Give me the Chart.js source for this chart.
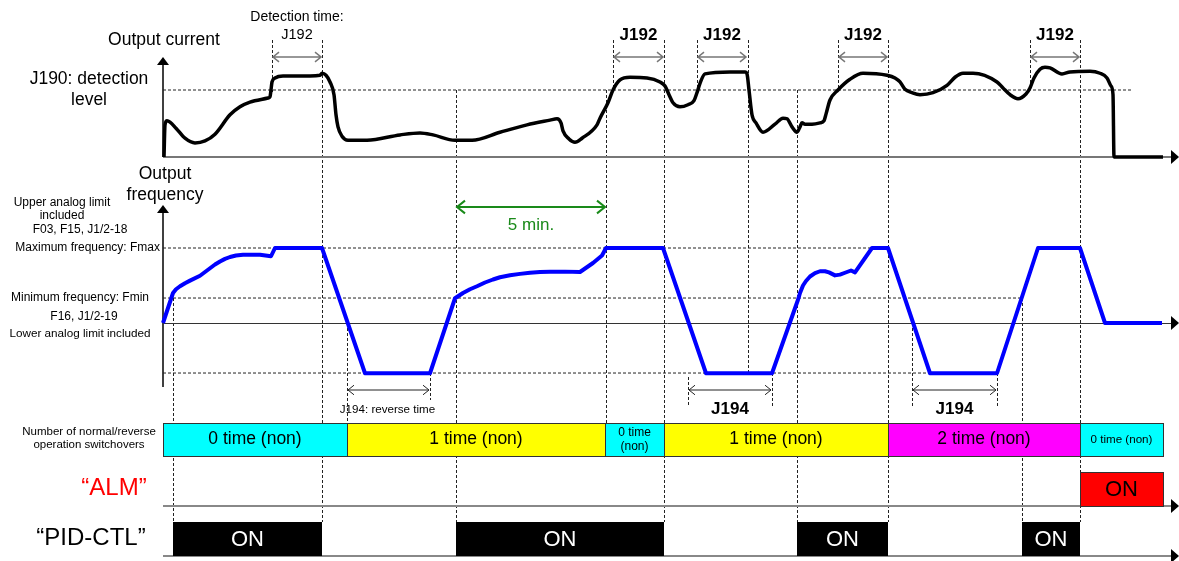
<!DOCTYPE html>
<html>
<head>
<meta charset="utf-8">
<script src="https://cdn.jsdelivr.net/npm/chart.js@4.4.1/dist/chart.umd.min.js"></script>
<style>
html,body{margin:0;padding:0;background:#fff;}
canvas{display:block;}
</style>
</head>
<body>
<canvas id="c" width="1179" height="561"></canvas>
<script>
// ---------------- DATA ----------------
// time axis (arbitrary time units along the diagram)
const currentTime  = [164,165,167,170,176,185,195,205,215,230,240,250,268,270,271,272,275,283,310,320,322,326,330,334,336,338,342,348,367,400,420,433,455,472,500,527,550,557,561,563,569,575,582,597,600,608,613,620,630,647,660,665,669,673,680,688,694,697,700,705,730,745,747,749,752,756,763,775,783,787,792,797,800,802,805,812,820,824,826,830,838,850,863,887,895,900,905,912,920,933,947,955,963,973,997,1003,1010,1018,1026,1030,1034,1040,1045,1050,1062,1070,1090,1100,1107,1111,1113,1114,1163];
// output current in % of the J190 detection level (100 = J190)
const currentValue = [0,48,54,52,43,28,21,24,34,63,75,82,88,90,100,112,118,121,121,122,125,122,112,93,63,45,31,25,25,33,36,33,25,25,37,48,55,57,51,39,27,22,28,48,58,81,100,115,119,118,112,106,93,81,75,78,84,96,110,124,127,127,124,100,63,51,37,49,58,57,45,37,45,51,49,49,51,54,64,85,100,116,125,122,118,112,101,96,93,96,107,119,125,125,112,103,93,87,94,103,118,131,134,133,124,127,128,125,118,106,93,0,0];

const freqTime  = [163,173,176,180,185,190,200,205,210,215,220,225,230,236,243,260,271,275,322,365,430,455,463,470,477,485,493,500,510,520,530,540,550,565,580,593,602,606,663,706,772,798,800,803,806,810,815,820,825,829,835,840,845,851,855,872,888,930,997,1038,1080,1105,1162];
// output frequency in % of Fmax (negative = reverse operation)
const freqValue = [0,40,45,49,53,56.5,63,68,73,78,82,85.5,88,90,91,91,89,100,100,-67,-67,33,40,45,49,54,58,61,63.6,65.5,67,68,68.4,68.5,68,80,90,100,100,-67,-67,31,40,50,56,62,66.5,69,69,67.5,63.5,64.5,67,70,67.5,100,100,-67,-67,100,100,0,0];

const detectionLevel = 100;   // J190
const fmaxLevel = 100;        // Fmax
const fminLevel = 33.3;       // Fmin
const reverseLevel = -66.7;   // reverse side limit

const switchStart = [163,347,605,664,888,1080];
const switchEnd   = [347,605,664,888,1080,1163];
const switchCount = [0,1,0,1,2,0];
const switchLabel = ["0 time (non)","1 time (non)","0 time\n(non)","1 time (non)","2 time (non)","0 time (non)"];

const almStart = [1080], almEnd = [1163];
const pidStart = [173,456,797,1022], pidEnd = [322,664,888,1080];

const j192Start = [272,613,697,838,1030], j192End = [322,664,747,888,1080];
const j194Start = [347,688,912], j194End = [430,772,997];
const fiveMinStart = 456, fiveMinEnd = 606;

// event times for the dashed guide lines
const guideTime = [173,272,322,347,430,456,606,613,664,688,697,748,772,797,838,888,912,997,1022,1030,1080];

// ---------------- LAYOUT ----------------
const W = 1179, H = 561;
const LAY = {
  axisX:163, right:1179,
  curZero:157, curRef:90, curTop:57,
  frqZero:323, frqRef:248, frqTop:205, frqBottom:387,
  band:[423,456], alm:[472,506], pid:[522,556],
  levelEnd:{det:1132, fmax:888, fmin:1022, rev:930},
  guideSpan:[[298,522],[40,92],[40,522],[323,423],[373,400],[90,522],[90,423],[40,90],[40,522],[377,407],[40,88],[40,373],[373,407],[90,522],[40,90],[40,522],[323,407],[373,407],[298,522],[40,90],[40,522]]
};
function panel(zeroPx, refPx, refVal){
  const k = (zeroPx - refPx) / refVal;
  const max = zeroPx / k;
  return {min: max - H / k, max: max};
}
const curAxis = panel(LAY.curZero, LAY.curRef, detectionLevel);
const frqAxis = panel(LAY.frqZero, LAY.frqRef, fmaxLevel);

const FONT = '"Liberation Sans", Arial, Helvetica, sans-serif';
const f = (sz, w) => (w || 'normal') + ' ' + sz + 'px ' + FONT;
const countColor = ['#00ffff', '#ffff00', '#ff00ff'];

function pts(xs, ys){ return xs.map((t,i)=>({x:t, y:ys[i]})); }
function level(x0, x1, v){ return [{x:x0, y:v}, {x:x1, y:v}]; }

// ---------------- PLUGIN ----------------
function tri(ctx, x, y, dir){
  ctx.beginPath();
  if (dir === 'up'){ ctx.moveTo(x, y); ctx.lineTo(x-6, y+8); ctx.lineTo(x+6, y+8); }
  else { ctx.moveTo(x, y); ctx.lineTo(x-8, y-7); ctx.lineTo(x-8, y+7); }
  ctx.closePath(); ctx.fillStyle = '#000'; ctx.fill();
}
function dimArrow(ctx, x0, x1, y, color, lw, head){
  ctx.strokeStyle = color; ctx.lineWidth = lw;
  ctx.beginPath(); ctx.moveTo(x0, y); ctx.lineTo(x1, y);
  ctx.moveTo(x0+head, y-head*0.8); ctx.lineTo(x0, y); ctx.lineTo(x0+head, y+head*0.8);
  ctx.moveTo(x1-head, y-head*0.8); ctx.lineTo(x1, y); ctx.lineTo(x1-head, y+head*0.8);
  ctx.stroke();
}
function text(ctx, s, x, y, font, color, align){
  ctx.font = font; ctx.fillStyle = color || '#000';
  ctx.textAlign = align || 'center'; ctx.textBaseline = 'middle';
  ctx.fillText(s, x, y);
}

const diagram = {
  id: 'diagram',
  beforeDatasetsDraw(chart){
    const {ctx, scales} = chart;
    const X = v => scales.x.getPixelForValue(v), Y = v => scales.yL.getPixelForValue(v);
    ctx.save();
    // dashed guides
    ctx.strokeStyle = '#222'; ctx.lineWidth = 1; ctx.setLineDash([3,2]);
    guideTime.forEach((t,i) => {
      const px = Math.round(X(t)) + 0.5;
      ctx.beginPath(); ctx.moveTo(px, Y(LAY.guideSpan[i][0])); ctx.lineTo(px, Y(LAY.guideSpan[i][1])); ctx.stroke();
    });
    ctx.setLineDash([]);
    const ax = X(LAY.axisX), rx = X(LAY.right);
    // current axes
    const c0 = scales.yCur.getPixelForValue(0);
    ctx.strokeStyle = '#000'; ctx.lineWidth = 1.5;
    ctx.beginPath(); ctx.moveTo(ax, Y(LAY.curTop)+6); ctx.lineTo(ax, c0); ctx.stroke();
    tri(ctx, ax, Y(LAY.curTop), 'up');
    ctx.strokeStyle = '#777'; ctx.lineWidth = 2;
    ctx.beginPath(); ctx.moveTo(ax, c0); ctx.lineTo(rx-7, c0); ctx.stroke();
    tri(ctx, rx, c0, 'right');
    // frequency axes
    const f0 = scales.yFreq.getPixelForValue(0);
    ctx.strokeStyle = '#000'; ctx.lineWidth = 1.5;
    ctx.beginPath(); ctx.moveTo(ax, Y(LAY.frqTop)+6); ctx.lineTo(ax, Y(LAY.frqBottom)); ctx.stroke();
    tri(ctx, ax, Y(LAY.frqTop), 'up');
    ctx.strokeStyle = '#333'; ctx.lineWidth = 1;
    ctx.beginPath(); ctx.moveTo(ax, Math.round(f0)+0.5); ctx.lineTo(rx-7, Math.round(f0)+0.5); ctx.stroke();
    tri(ctx, rx, f0, 'right');
    // ALM / PID baselines
    [LAY.alm[1], LAY.pid[1]].forEach(b => {
      ctx.strokeStyle = '#888'; ctx.lineWidth = 2;
      ctx.beginPath(); ctx.moveTo(ax, Y(b)); ctx.lineTo(rx-7, Y(b)); ctx.stroke();
      tri(ctx, rx, Y(b), 'right');
    });
    ctx.restore();
  },
  afterDatasetsDraw(chart){
    const {ctx, scales} = chart;
    const X = v => scales.x.getPixelForValue(v), Y = v => scales.yL.getPixelForValue(v);
    ctx.save();
    // switchover band
    const bt = Y(LAY.band[0]), bb = Y(LAY.band[1]);
    switchStart.forEach((s,i) => {
      const x0 = X(s), x1 = X(switchEnd[i]);
      ctx.fillStyle = countColor[switchCount[i]];
      ctx.fillRect(x0, bt, x1-x0, bb-bt);
      ctx.strokeStyle = '#333'; ctx.lineWidth = 1;
      ctx.strokeRect(Math.round(x0)+0.5, Math.round(bt)+0.5, Math.round(x1-x0), Math.round(bb-bt));
      const lines = switchLabel[i].split('\n');
      const cx = (x0+x1)/2, cy = (bt+bb)/2;
      if (lines.length > 1){
        text(ctx, lines[0], cx, cy-7, f(12), '#000');
        text(ctx, lines[1], cx, cy+7, f(12), '#000');
      } else {
        text(ctx, lines[0], cx, cy, f((x1-x0) < 100 ? 11.6 : 17.5), '#000');
      }
    });
    // ALM
    almStart.forEach((s,i) => {
      const x0 = X(s), x1 = X(almEnd[i]), t = Y(LAY.alm[0]), b = Y(LAY.alm[1]);
      ctx.fillStyle = '#ff0000'; ctx.fillRect(x0, t, x1-x0, b-t);
      ctx.strokeStyle = '#333'; ctx.lineWidth = 1;
      ctx.strokeRect(Math.round(x0)+0.5, Math.round(t)+0.5, Math.round(x1-x0), Math.round(b-t));
      text(ctx, 'ON', (x0+x1)/2, (t+b)/2+1, f(22), '#000');
    });
    // PID-CTL
    pidStart.forEach((s,i) => {
      const x0 = X(s), x1 = X(pidEnd[i]), t = Y(LAY.pid[0]), b = Y(LAY.pid[1]);
      ctx.fillStyle = '#000'; ctx.fillRect(x0, t, x1-x0, b-t);
      text(ctx, 'ON', (x0+x1)/2, (t+b)/2+1, f(22), '#fff');
    });
    // J192 arrows
    j192Start.forEach((s,i) => {
      dimArrow(ctx, X(s)+1, X(j192End[i])-1, Y(57), '#777', 1.5, 6);
      if (i === 0){
        text(ctx, 'Detection time:', (X(s)+X(j192End[i]))/2, Y(17), f(14));
        text(ctx, 'J192', (X(s)+X(j192End[i]))/2, Y(35), f(14.5));
      } else {
        text(ctx, 'J192', (X(s)+X(j192End[i]))/2, Y(35), f(17, 'bold'));
      }
    });
    // J194 arrows
    j194Start.forEach((s,i) => {
      dimArrow(ctx, X(s)+1, X(j194End[i])-1, Y(390), '#222', 1, 6);
      if (i === 0) text(ctx, 'J194: reverse time', (X(s)+X(j194End[i]))/2 - 1, Y(410), f(11.6));
      else text(ctx, 'J194', (X(s)+X(j194End[i]))/2, Y(409), f(17, 'bold'));
    });
    // 5 min
    dimArrow(ctx, X(fiveMinStart)+1, X(fiveMinEnd)-1, Y(207), '#1a8a1a', 2, 8);
    text(ctx, '5 min.', (X(fiveMinStart)+X(fiveMinEnd))/2, Y(225), f(17), '#1a8a1a');
    // left labels
    text(ctx, 'Output current', 164, Y(40), f(17.5));
    text(ctx, 'J190: detection', 89, Y(79), f(17.5));
    text(ctx, 'level', 89, Y(100), f(17.5));
    text(ctx, 'Output', 165, Y(174), f(17.5));
    text(ctx, 'frequency', 165, Y(195), f(17.5));
    text(ctx, 'Upper analog limit', 62, Y(203), f(12));
    text(ctx, 'included', 62, Y(216), f(12));
    text(ctx, 'F03, F15, J1/2-18', 80, Y(230), f(12));
    text(ctx, 'Maximum frequency: Fmax', 160, Y(248), f(12), '#000', 'right');
    text(ctx, 'Minimum frequency: Fmin', 80, Y(298), f(12));
    text(ctx, 'F16, J1/2-19', 84, Y(317), f(12));
    text(ctx, 'Lower analog limit included', 80, Y(334), f(11.7));
    text(ctx, 'Number of normal/reverse', 89, Y(432), f(11.5));
    text(ctx, 'operation switchovers', 89, Y(445), f(11.5));
    text(ctx, '\u201CALM\u201D', 114, Y(488), f(24), '#ff0000');
    text(ctx, '\u201CPID-CTL\u201D', 91, Y(538), f(24), '#000');
    ctx.restore();
  }
};

// ---------------- CHART ----------------
const lineBase = {pointRadius:0, pointHoverRadius:0, fill:false};
new Chart(document.getElementById('c'), {
  type: 'line',
  data: {
    datasets: [
      Object.assign({label:'Output current', data:pts(currentTime, currentValue), yAxisID:'yCur',
        borderColor:'#000', borderWidth:3.5, cubicInterpolationMode:'monotone', borderJoinStyle:'round', order:0}, lineBase),
      Object.assign({label:'Output frequency', data:pts(freqTime, freqValue), yAxisID:'yFreq',
        borderColor:'#0000ff', borderWidth:4, tension:0, borderJoinStyle:'round', order:0}, lineBase),
      Object.assign({label:'J190 detection level', data:level(LAY.axisX, LAY.levelEnd.det, detectionLevel), yAxisID:'yCur',
        borderColor:'#222', borderWidth:1, borderDash:[3,2], order:5}, lineBase),
      Object.assign({label:'Fmax', data:level(LAY.axisX, LAY.levelEnd.fmax, fmaxLevel), yAxisID:'yFreq',
        borderColor:'#222', borderWidth:1, borderDash:[3,2], order:5}, lineBase),
      Object.assign({label:'Fmin', data:level(LAY.axisX, LAY.levelEnd.fmin, fminLevel), yAxisID:'yFreq',
        borderColor:'#222', borderWidth:1, borderDash:[3,2], order:5}, lineBase),
      Object.assign({label:'Reverse', data:level(LAY.axisX, LAY.levelEnd.rev, reverseLevel), yAxisID:'yFreq',
        borderColor:'#222', borderWidth:1, borderDash:[3,2], order:5}, lineBase)
    ]
  },
  options: {
    responsive: false,
    devicePixelRatio: 1,
    animation: false,
    events: [],
    layout: {padding: 0},
    plugins: {legend:{display:false}, tooltip:{enabled:false}},
    scales: {
      x: {type:'linear', min:0, max:W, display:false},
      yCur: {type:'linear', min:curAxis.min, max:curAxis.max, display:false},
      yFreq: {type:'linear', min:frqAxis.min, max:frqAxis.max, display:false},
      yL: {type:'linear', min:0, max:H, reverse:true, display:false}
    }
  },
  plugins: [diagram]
});
</script>
</body>
</html>
